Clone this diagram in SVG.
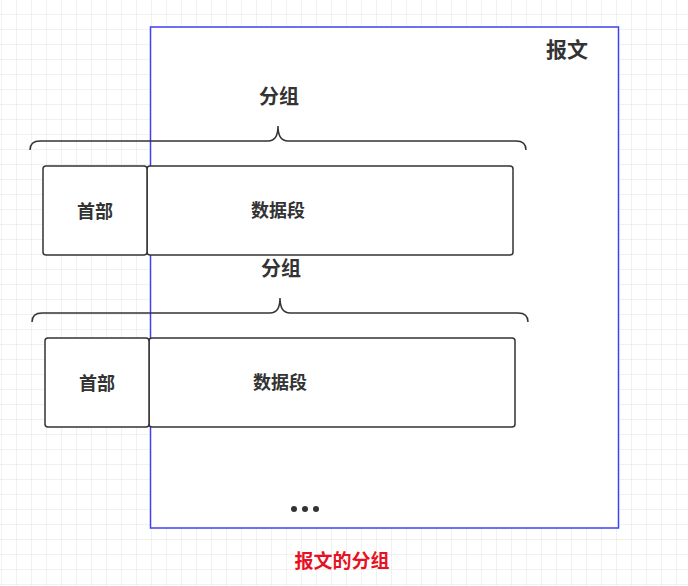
<svg xmlns="http://www.w3.org/2000/svg" width="688" height="586" viewBox="0 0 688 586">
<defs>
<pattern id="g" width="15" height="15" patternUnits="userSpaceOnUse" x="1" y="-1"><path d="M0 0H15M0 0V15" fill="none" stroke="#e4e4e4" stroke-width="1"/></pattern>
<style>
.b{fill:#fff;stroke:#333;stroke-width:1.5}
.t{font-family:"Noto Sans CJK SC",sans-serif;font-weight:bold;fill:#333;text-anchor:middle}
.br{fill:none;stroke:#333;stroke-width:1.5}
</style>
</defs>
<rect width="688" height="586" fill="#fff"/>
<rect width="688" height="586" fill="url(#g)"/>
<g id="msg"><rect x="150.5" y="27" width="468" height="501" fill="#fff" stroke="#4040f0" stroke-width="1.5"/>
<text class="t" x="567" y="57" font-size="21">报文</text></g>
<g id="pkt1">
<path class="br" d="M30 150Q30 141 40 141H268Q278 141 278 126Q278 141 288 141H516Q526 141 526 150"/>
<text class="t" x="279" y="104" font-size="20">分组</text>
<rect class="b" x="147" y="166" width="366" height="89" rx="3"/>
<rect class="b" x="43" y="166" width="104" height="89" rx="3"/>
<text class="t" x="95" y="218" font-size="18">首部</text>
<text class="t" x="278" y="217" font-size="18">数据段</text>
</g>
<g id="pkt2">
<path class="br" d="M32 322Q32 313 42 313H270Q280 313 280 298Q280 313 290 313H518Q528 313 528 322"/>
<text class="t" x="281" y="276" font-size="20">分组</text>
<rect class="b" x="149" y="338" width="366" height="89" rx="3"/>
<rect class="b" x="45" y="338" width="104" height="89" rx="3"/>
<text class="t" x="97" y="390" font-size="18">首部</text>
<text class="t" x="280" y="389" font-size="18">数据段</text>
</g>
<g id="dots" fill="#333"><circle cx="294" cy="509" r="3"/><circle cx="305" cy="509" r="3"/><circle cx="316" cy="509" r="3"/></g>
<text class="t" x="342" y="568" font-size="19" style="fill:#e81123">报文的分组</text>
<g id="connectors"/>
</svg>
